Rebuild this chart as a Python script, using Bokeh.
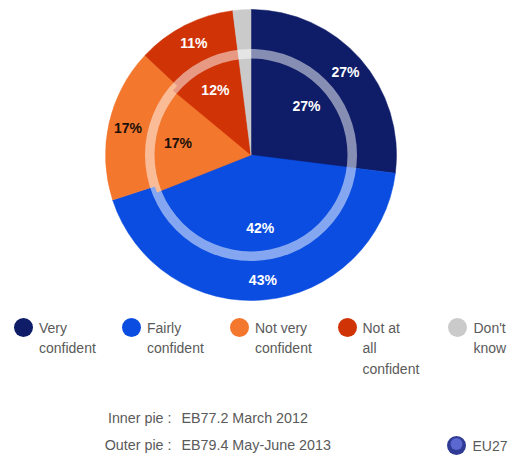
from math import pi, sin, cos

from bokeh.embed import file_html
from bokeh.models import ColumnDataSource, Range1d
from bokeh.plotting import figure
from bokeh.resources import INLINE

# Survey shares, in per cent, clockwise from twelve o'clock
categories = ["Very confident", "Fairly confident", "Not very confident",
              "Not at all confident", "Don't know"]
outer_values = [27, 43, 17, 11, 2]
inner_values = [27, 42, 17, 12, 2]
colors = ["#0f1d68", "#0a4de0", "#f4772e", "#d03306", "#cacaca"]
label_colors = ["white", "white", "#1a1008", "white", None]

legend_lines = [["Very", "confident"], ["Fairly", "confident"],
                ["Not very", "confident"], ["Not at", "all", "confident"],
                ["Don't", "know"]]
notes = [("Inner pie :", "EB77.2 March 2012"),
         ("Outer pie :", "EB79.4 May-June 2013")]
region = "EU27"

W, H = 513, 456
FONT = "Liberation Sans"
GREY = "#5a5a5a"
CX, CY = 250.5, H - 154.5
R_OUTER, R_INNER = 145.5, 101


def pie_rows(values):
    """Turn percentages into start/end angles and label directions."""
    rows = {"start": [], "end": [], "mid": []}
    total = 0
    for v in values:
        rows["start"].append(pi / 2 - 2 * pi * total / 100)
        rows["end"].append(pi / 2 - 2 * pi * (total + v) / 100)
        rows["mid"].append(pi / 2 - 2 * pi * (total + v / 2) / 100)
        total += v
    rows["color"] = colors
    return rows


p = figure(width=W, height=H, x_range=Range1d(0, W), y_range=Range1d(0, H),
           output_backend="svg", toolbar_location=None, min_border=0,
           background_fill_color="white", border_fill_color="white")
p.axis.visible = False
p.grid.visible = False
p.outline_line_color = None

# Outer pie, then the inner pie on top of it
for values, radius in ((outer_values, R_OUTER), (inner_values, R_INNER)):
    p.wedge(x=CX, y=CY, radius=radius, start_angle="start", end_angle="end",
            direction="clock", fill_color="color", line_color="color",
            line_width=0.5, source=ColumnDataSource(pie_rows(values)))

# Translucent ring separating the two surveys
p.annulus(x=CX, y=CY, inner_radius=96.5, outer_radius=106,
          fill_color="white", fill_alpha=0.5, line_color=None)


def percent_labels(values, radius):
    xs, ys, texts, cols = [], [], [], []
    for v, a, c in zip(values, pie_rows(values)["mid"], label_colors):
        if c is None:
            continue
        xs.append(CX + radius * cos(a))
        ys.append(CY + radius * sin(a))
        texts.append(f"{v}%")
        cols.append(c)
    p.text(x=xs, y=ys, text=texts, text_color=cols, text_font={"value": FONT},
           text_font_size="14px", text_font_style="bold",
           text_align="center", text_baseline="middle")


percent_labels(outer_values, 126)
percent_labels(inner_values, 74)

# Legend: a dot followed by up to three lines of text
dot_x = [23, 131, 239, 347, 457]
text_x = [38.5, 146.5, 254.5, 362, 473]
p.scatter(x=dot_x, y=[H - 327] * 5, size=19, marker="circle",
          fill_color=colors, line_color=None)
lx, ly, lt = [], [], []
for x, lines in zip(text_x, legend_lines):
    for i, line in enumerate(lines):
        lx.append(x)
        ly.append(H - (327 + 20.5 * i))
        lt.append(line)
p.text(x=lx, y=ly, text=lt, text_color=GREY, text_font={"value": FONT},
       text_font_size="14px", text_baseline="middle")

# Survey notes
note_y = [H - 417, H - 444]
p.text(x=[171, 171], y=note_y, text=[n[0] for n in notes], text_color=GREY,
       text_font={"value": FONT}, text_font_size="14.3px",
       text_align="right", text_baseline="middle")
p.text(x=[181, 181], y=note_y, text=[n[1] for n in notes], text_color=GREY,
       text_font={"value": FONT}, text_font_size="14.3px",
       text_baseline="middle")

# Globe marker beside the region name
p.scatter(x=[456], y=[H - 445], size=19, marker="circle",
          fill_color="#2f3a94", line_color=None)
p.scatter(x=[456], y=[H - 443.5], size=12, marker="circle",
          fill_color="#5b68cf", line_color=None)
p.text(x=[472], y=[H - 445], text=[region], text_color=GREY,
       text_font={"value": FONT}, text_font_size="14px",
       text_baseline="middle")

open("out.html", "w").write(file_html(p, INLINE))
